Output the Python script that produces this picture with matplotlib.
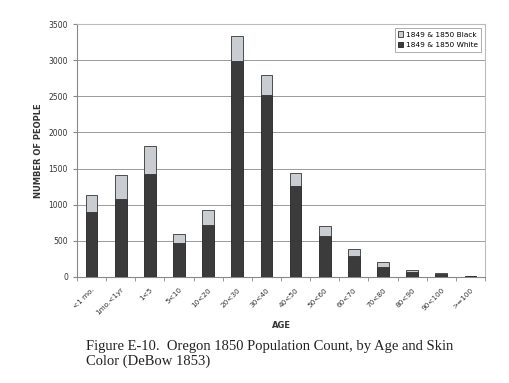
import matplotlib
matplotlib.use("Agg")
import matplotlib.pyplot as plt
import matplotlib.transforms as mtransforms
import numpy as np

categories = ["<1 mo.", "1mo.<1yr", "1<5", "5<10", "10<20", "20<30", "30<40",
              "40<50", "50<60", "60<70", "70<80", "80<90", "90<100", ">=100"]
white = [900, 1080, 1425, 470, 725, 2985, 2525, 1265, 570, 290, 140, 65, 45, 12]
black = [240, 325, 390, 118, 205, 345, 265, 180, 138, 100, 65, 36, 10, 5]

fig = plt.figure(figsize=(5.10, 3.83), dpi=100)
ax = fig.add_axes([0.151, 0.277, 0.800, 0.660])

x = np.arange(len(categories))
w = 0.40
ax.bar(x, white, w, color="#3b3b3b", edgecolor="#222222", linewidth=0.6,
       label="1849 & 1850 White", zorder=3)
ax.bar(x, black, w, bottom=white, color="#c9ccd1", edgecolor="#333333",
       linewidth=0.6, label="1849 & 1850 Black", zorder=3)

ax.set_xlim(-0.5, len(categories) - 0.5)
ax.set_ylim(0, 3500)
ax.set_yticks(np.arange(0, 3501, 500))
ax.yaxis.grid(True, color="#9a9a9a", linewidth=0.7)
ax.set_axisbelow(True)

ax.set_xticks(x)
ax.set_xticklabels(categories, rotation=45, ha="right", rotation_mode="anchor",
                   fontsize=5.2, color="#333333")
offset = mtransforms.ScaledTranslation(-3 / 100, 0, fig.dpi_scale_trans)
for lbl in ax.get_xticklabels():
    lbl.set_transform(lbl.get_transform() + offset)
ax.set_xticks(np.arange(-0.5, len(categories), 1), minor=True)
ax.tick_params(axis="x", which="major", length=0, pad=7)
ax.tick_params(axis="x", which="minor", length=3, color="#888888")
ax.tick_params(axis="y", labelsize=5.5, length=3, color="#888888",
               labelcolor="#333333")

for s in ["top", "right"]:
    ax.spines[s].set_color("#bbbbbb")
    ax.spines[s].set_linewidth(0.8)
for s in ["left", "bottom"]:
    ax.spines[s].set_color("#888888")
    ax.spines[s].set_linewidth(0.8)

ax.set_ylabel("NUMBER OF PEOPLE", fontsize=6, fontweight="bold", color="#333333")
fig.text(0.551, 0.149, "AGE", fontsize=6, fontweight="bold", color="#333333",
         ha="center", va="center")

h, l = ax.get_legend_handles_labels()
leg = ax.legend(h[::-1], l[::-1], loc="upper right", fontsize=5.3,
                frameon=True, fancybox=False, edgecolor="#888888",
                handlelength=0.7, handleheight=0.7, handletextpad=0.3,
                borderpad=0.5, labelspacing=0.6, borderaxespad=0.5)
leg.get_frame().set_linewidth(0.6)

fig.text(0.169, 0.076,
         "Figure E-10.  Oregon 1850 Population Count, by Age and Skin\nColor (DeBow 1853)",
         fontsize=10.5, family="Liberation Serif", ha="left", va="center",
         linespacing=1.2, color="#222222")

fig.savefig("out.png", dpi=100)
